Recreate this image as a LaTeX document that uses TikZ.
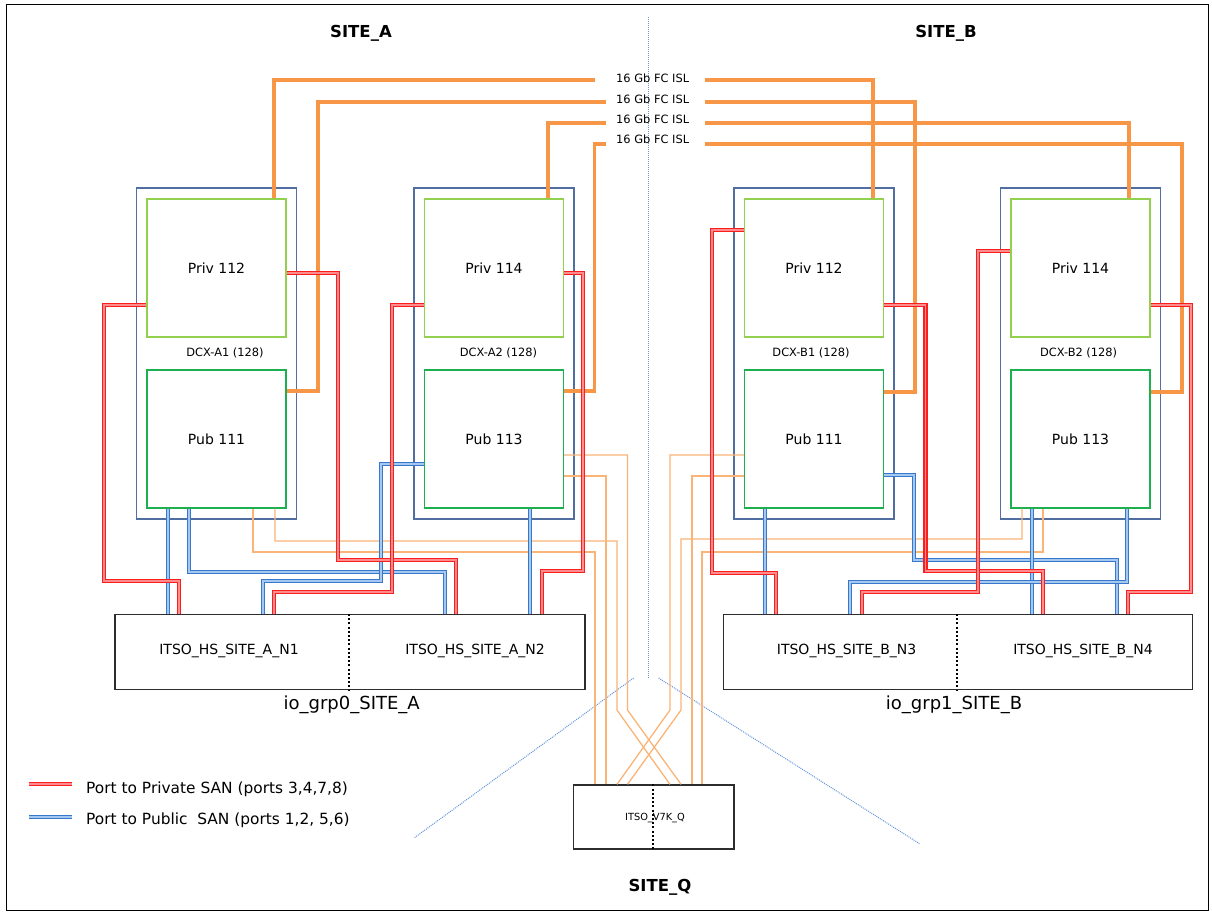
\documentclass[tikz,border=0pt]{standalone}
\usepackage{fontspec}
\setmainfont{DejaVu Sans}
\usetikzlibrary{calc}
\definecolor{dcxc}{RGB}{80,110,160}
\definecolor{privc}{RGB}{146,208,80}
\definecolor{pubc}{RGB}{30,175,80}
\definecolor{islc}{RGB}{247,150,70}
\definecolor{thinor}{RGB}{250,180,120}
\definecolor{redc}{RGB}{250,30,30}
\definecolor{redin}{RGB}{255,140,140}
\definecolor{bluec}{RGB}{55,120,205}
\definecolor{bluein}{RGB}{165,200,240}
\definecolor{sepc}{RGB}{100,150,220}
\definecolor{boxc}{RGB}{45,45,45}
\newcommand\myfs[1]{\fontsize{#1}{#1}\selectfont}
\begin{document}
\begin{tikzpicture}[x=1pt,y=-1pt,
  dcxbox/.style={draw=dcxc,line width=1.3pt,minimum width=160pt,minimum height=331pt,inner sep=0pt},
  privbox/.style={draw=privc,line width=1.3pt,minimum width=139pt,minimum height=138pt,inner sep=0pt,font=\myfs{14}},
  pubbox/.style={draw=pubc,line width=1.3pt,minimum width=139pt,minimum height=138pt,inner sep=0pt,font=\myfs{14}},
  dcxlbl/.style={inner sep=0pt,font=\myfs{11.4}},
  isllbl/.style={inner sep=0pt,anchor=west,font=\myfs{11.4}},
  grpbox/.style={draw=boxc,line width=1.3pt,inner sep=0pt},
  nodelbl/.style={inner sep=0pt,font=\myfs{14}},
  grplbl/.style={inner sep=0pt,font=\myfs{18}},
  sitelbl/.style={inner sep=0pt,font=\bfseries\myfs{16.5}},
  legendlbl/.style={inner sep=0pt,anchor=west,font=\myfs{15.4}},
  isl/.style={draw=islc,line width=3.3pt},
  thin/.style={draw=thinor,line width=1.3pt},
  privline/.style={draw=redc,double=redin,double distance=1.6pt,line width=1.5pt},
  publine/.style={draw=bluec,double=bluein,double distance=1.6pt,line width=1.5pt},
  divider/.style={draw=black,line width=2pt,dash pattern=on 2pt off 2.2pt},
  sep/.style={draw=sepc,line width=1pt,dash pattern=on 1pt off 1pt}
]
\useasboundingbox (0,0) rectangle (1212,913);
\draw[line width=1.2pt] (6.5,4.5) rectangle (1208.5,910.5);

% site titles
\node[sitelbl] (siteA) at (361,33) {SITE\_A};
\node[sitelbl] (siteB) at (946,33) {SITE\_B};
\node[sitelbl] (siteQ) at (660,887) {SITE\_Q};

% separators
\draw[sep] (648,17) -- (648,678);
\draw[sep] (633.6,678) -- (414,838);
\draw[sep] (658.6,678) -- (920,844);

% DCX switches
\node[dcxbox] (dA1) at (216.5,353.5) {};
\node[dcxbox] (dA2) at (494,353.5) {};
\node[dcxbox] (dB1) at (814,353.5) {};
\node[dcxbox] (dB2) at (1080.5,353.5) {};
\node[privbox] (pA1) at (216.5,268) {Priv 112};
\node[privbox] (pA2) at (494,268) {Priv 114};
\node[privbox] (pB1) at (814,268) {Priv 112};
\node[privbox] (pB2) at (1080.5,268) {Priv 114};
\node[pubbox] (uA1) at (216.5,439) {Pub 111};
\node[pubbox] (uA2) at (494,439) {Pub 113};
\node[pubbox] (uB1) at (814,439) {Pub 111};
\node[pubbox] (uB2) at (1080.5,439) {Pub 113};
\node[dcxlbl] (lA1) at (225,353) {DCX-A1 (128)};
\node[dcxlbl] (lA2) at (498.5,353) {DCX-A2 (128)};
\node[dcxlbl] (lB1) at (811,353) {DCX-B1 (128)};
\node[dcxlbl] (lB2) at (1078.6,353) {DCX-B2 (128)};

% IO groups
\node[grpbox,minimum width=470pt,minimum height=74.6pt] (grpA) at (350,652) {};
\node[grpbox,minimum width=469pt,minimum height=74.6pt] (grpB) at (958,652) {};
\draw[divider] (grpA.north -| 349,0) -- (grpA.south -| 349,0);
\draw[divider] (grpB.north -| 957,0) -- (grpB.south -| 957,0);
\node[nodelbl] (n1) at (229,651) {ITSO\_HS\_SITE\_A\_N1};
\node[nodelbl] (n2) at (475,651) {ITSO\_HS\_SITE\_A\_N2};
\node[nodelbl] (n3) at (846.6,651) {ITSO\_HS\_SITE\_B\_N3};
\node[nodelbl] (n4) at (1083,651) {ITSO\_HS\_SITE\_B\_N4};
\node[grplbl] (gA) at (351.7,705) {io\_grp0\_SITE\_A};
\node[grplbl] (gB) at (954,705) {io\_grp1\_SITE\_B};

% quorum
\node[grpbox,minimum width=160.4pt,minimum height=64pt] (qbox) at (653.8,817) {};
\node[inner sep=0pt,font=\myfs{9.8}] (qtxt) at (655,818) {ITSO\_V7K\_Q};
\draw[divider] (qbox.north -| 653,0) -- (qbox.south -| 653,0);

% ISL labels
\node[isllbl] (isl1) at (616,78) {16 Gb FC ISL};
\node[isllbl] (isl2) at (616,99) {16 Gb FC ISL};
\node[isllbl] (isl3) at (616,119) {16 Gb FC ISL};
\node[isllbl] (isl4) at (616,139) {16 Gb FC ISL};

% ISL thick orange
\draw[isl] (pA1.north -| 274,0) -- (274,80) -- ($(isl1.west)+(-21,2)$);
\draw[isl] (uA1.east |- 0,391) -- (318,391) -- (318,102) -- ($(isl2.west)+(-10,3)$);
\draw[isl] (pA2.north -| 548,0) -- (548,123) -- ($(isl3.west)+(-10,4)$);
\draw[isl] (uA2.east |- 0,391) -- (594.5,391) -- (594.5,144) -- ($(isl4.west)+(-10,5)$);
\draw[isl] ($(isl1.west)+(89,2)$) -- (873,80) -- (pB1.north -| 873,0);
\draw[isl] ($(isl2.west)+(89,3)$) -- (915,102) -- (915,392) -- (uB1.east |- 0,392);
\draw[isl] ($(isl3.west)+(89,4)$) -- (1129,123) -- (pB2.north -| 1129,0);
\draw[isl] ($(isl4.west)+(89,5)$) -- (1182,144) -- (1182,392) -- (uB2.east |- 0,392);

% quorum links (thin orange)
\draw[thin] (uA1.south -| 275,0) -- (275,541) -- (617,541) -- (617,710) -- (qbox.north -| 670,0);
\draw[thin] (uA1.south -| 253,0) -- (253,552) -- (595,552) -- (qbox.north -| 595,0);
\draw[thin] (uA2.east |- 0,455) -- (627.5,455) -- (627.5,710) -- (qbox.north -| 681,0);
\draw[thin] (uA2.east |- 0,476) -- (606,476) -- (qbox.north -| 606,0);
\draw[thin] (uB1.west |- 0,455) -- (670,455) -- (670,710) -- (qbox.north -| 617,0);
\draw[thin] (uB1.west |- 0,476) -- (692,476) -- (qbox.north -| 692,0);
\draw[thin] (uB2.south -| 1022,0) -- (1022,539) -- (681,539) -- (681,710) -- (qbox.north -| 627.5,0);
\draw[thin] (uB2.south -| 1043,0) -- (1043,552) -- (702,552) -- (qbox.north -| 702,0);

% public SAN (blue)
\draw[publine] (uA1.south -| 168,0) -- (grpA.north -| 168,0);
\draw[publine] (uA1.south -| 189,0) -- (189,572) -- (445,572) -- (grpA.north -| 445,0);
\draw[publine] (uA2.west |- 0,464) -- (381,464) -- (381,581) -- (263,581) -- (grpA.north -| 263,0);
\draw[publine] (uA2.south -| 530,0) -- (grpA.north -| 530,0);
\draw[publine] (uB1.south -| 765,0) -- (grpB.north -| 765,0);
\draw[publine] (uB1.east |- 0,475) -- (914,475) -- (914,560) -- (1117,560) -- (grpB.north -| 1117,0);
\draw[publine] (uB2.south -| 1032,0) -- (grpB.north -| 1032,0);
\draw[publine] (uB2.south -| 1127,0) -- (1127,582) -- (850,582) -- (grpB.north -| 850,0);

% private SAN (red)
\draw[privline] (pA1.west |- 0,305) -- (104,305) -- (104,581) -- (179,581) -- (grpA.north -| 179,0);
\draw[privline] (pA1.east |- 0,273) -- (338,273) -- (338,560) -- (456,560) -- (grpA.north -| 456,0);
\draw[privline] (pA2.west |- 0,305) -- (392,305) -- (392,592) -- (274,592) -- (grpA.north -| 274,0);
\draw[privline] (pA2.east |- 0,273) -- (583,273) -- (583,571) -- (542,571) -- (grpA.north -| 542,0);
\draw[privline] (pB1.west |- 0,230) -- (712,230) -- (712,573) -- (776,573) -- (grpB.north -| 776,0);
\draw[privline] (pB1.east |- 0,305) -- (925.5,305) -- (925.5,571) -- (1043,571) -- (grpB.north -| 1043,0);
\draw[privline] (pB2.west |- 0,251) -- (978,251) -- (978,592) -- (862,592) -- (grpB.north -| 862,0);
\draw[privline] (pB2.east |- 0,305) -- (1191,305) -- (1191,592) -- (1128,592) -- (grpB.north -| 1128,0);

% legend
\coordinate (legR1) at (29,784);
\coordinate (legR2) at (72,784);
\coordinate (legB1) at (29,817);
\coordinate (legB2) at (72,817);
\draw[privline] (legR1) -- (legR2);
\draw[publine] (legB1) -- (legB2);
\node[legendlbl] (legR) at (86,789) {Port to Private SAN (ports 3,4,7,8)};
\node[legendlbl] (legB) at (86,820) {Port to Public\ \ SAN (ports 1,2, 5,6)};
\end{tikzpicture}
\end{document}
